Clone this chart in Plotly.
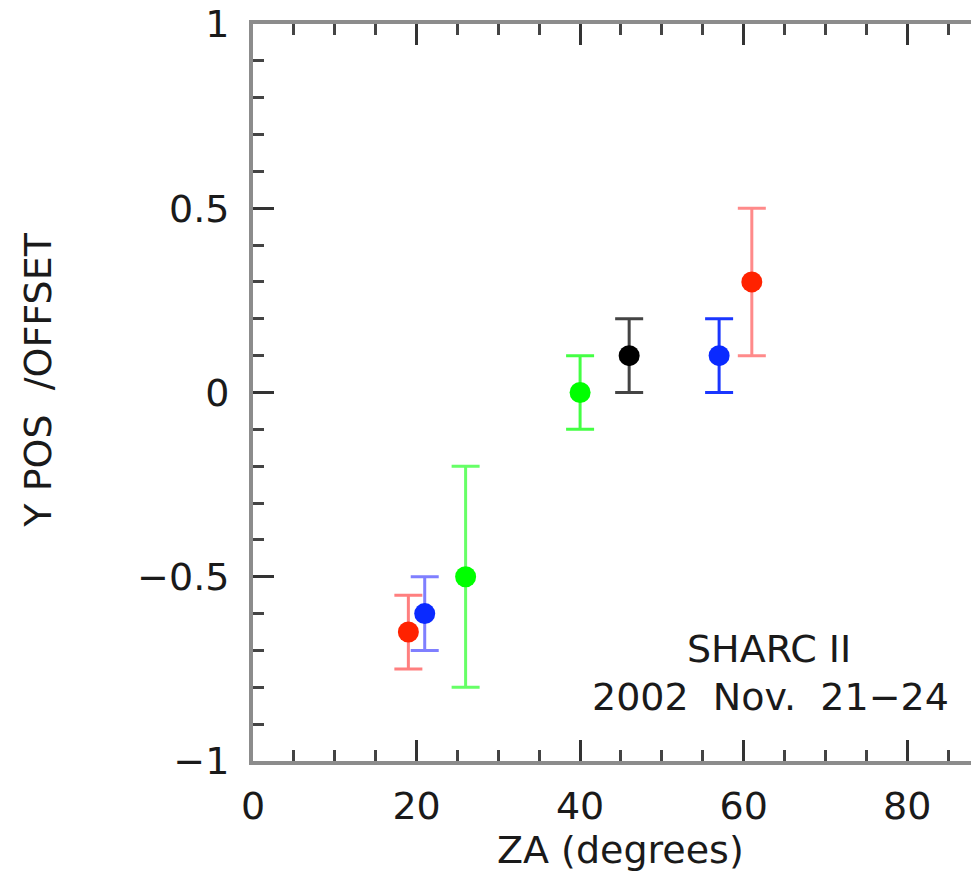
import plotly.graph_objects as go

# ---- data ----
za_deg = [19, 21, 26, 40, 46, 57, 61]
y_offset = [-0.65, -0.60, -0.50, 0.00, 0.10, 0.10, 0.30]
y_err = [0.10, 0.10, 0.30, 0.10, 0.10, 0.10, 0.20]

x_ticks = [0, 20, 40, 60, 80]
y_ticks = [-1, -0.5, 0, 0.5, 1]

# ---- styles ----
marker_colors = ["#ff2200", "#0a2aff", "#00ff00", "#00ff00", "#000000", "#0a2aff", "#ff2200"]
err_colors = ["#ff7f7f", "#7f7fff", "#66ff66", "#44ff44", "#444444", "#1a36ff", "#ff8a8a"]

OFF = 8  # default body margin of the html page
W, H = 979 - OFF, 871 - OFF
L, T = 252.5 - OFF, 24 - OFF
plot_bottom = 761 - OFF
B = H - plot_bottom
plot_w = W - L
plot_h = plot_bottom - T
px_per_unit = 8.183
x_max = plot_w / px_per_unit

FONT = "DejaVu Sans"
FS = 38
TXT = "#1a1a1a"

fig = go.Figure()
for xv, yv, ev, mc, ec in zip(za_deg, y_offset, y_err, marker_colors, err_colors):
    fig.add_trace(go.Scatter(
        x=[xv], y=[yv], mode="markers",
        marker=dict(color=mc, size=21, line=dict(width=0)),
        error_y=dict(type="data", array=[ev], visible=True, color=ec, thickness=3, width=14),
        showlegend=False, cliponaxis=False,
    ))


def px_to_paper_x(px):
    # px given in page pixels
    return (px - OFF - L) / plot_w


def py_to_paper_y(py):
    return (plot_bottom - (py - OFF)) / plot_h


axis_common = dict(
    showgrid=False, zeroline=False, showline=True, linecolor="#8c8c8c", linewidth=4,
    ticks="inside", tickcolor="#333333", tickwidth=3, ticklen=21, automargin=False,
    tickfont=dict(family=FONT, size=FS, color=TXT),
)

fig.update_layout(
    width=W, height=H,
    margin=dict(l=L, r=0, t=T, b=B, pad=0, autoexpand=False),
    paper_bgcolor="white", plot_bgcolor="white",
    xaxis=dict(range=[0, x_max], tickvals=x_ticks, mirror="ticks",
               minor=dict(dtick=5, tick0=0, ticks="inside", ticklen=11, tickcolor="#444444", tickwidth=3),
               ticklabelstandoff=8, ticklabeloverflow="allow", **axis_common),
    yaxis=dict(range=[-1, 1], tickvals=y_ticks, mirror=False,
               minor=dict(dtick=0.1, tick0=0, ticks="inside", ticklen=11, tickcolor="#444444", tickwidth=3),
               ticklabelstandoff=12, ticklabeloverflow="allow", **axis_common),
    yaxis2=dict(range=[-1, 1], overlaying="y", side="right", anchor="x", showgrid=False, zeroline=False,
                showline=False, showticklabels=False, ticks="inside", ticklen=4, tickwidth=3,
                tickcolor="#444444", dtick=0.1, tick0=0, automargin=False),
    annotations=[
        dict(text="ZA (degrees)", xref="paper", yref="paper",
             x=px_to_paper_x(620.5), y=py_to_paper_y(850), xanchor="center", yanchor="middle",
             showarrow=False, font=dict(family=FONT, size=FS, color=TXT)),
        dict(text="Y POS\u00a0\u00a0/OFFSET", xref="paper", yref="paper",
             x=px_to_paper_x(37), y=py_to_paper_y(380), xanchor="center", yanchor="middle",
             textangle=-90, showarrow=False, font=dict(family=FONT, size=FS, color=TXT)),
        dict(text="SHARC II", xref="paper", yref="paper",
             x=px_to_paper_x(769), y=py_to_paper_y(649), xanchor="center", yanchor="middle",
             showarrow=False, font=dict(family=FONT, size=FS, color=TXT)),
        dict(text="2002\u00a0\u00a0Nov.\u00a0\u00a021\u221224", xref="paper", yref="paper",
             x=px_to_paper_x(770), y=py_to_paper_y(697), xanchor="center", yanchor="middle",
             showarrow=False, font=dict(family=FONT, size=FS, color=TXT)),
    ],
)
# invisible trace so the right-hand tick axis is drawn
fig.add_trace(go.Scatter(x=[None], y=[None], yaxis="y2", showlegend=False, hoverinfo="skip"))

fig.write_html("out.html")
